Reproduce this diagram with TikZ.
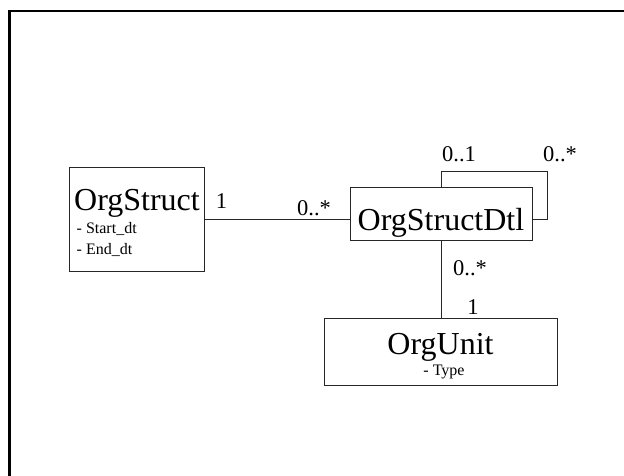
\documentclass[tikz,border=0pt]{standalone}
\usepackage{fontspec}
\setmainfont{Liberation Serif}
\begin{document}
\begin{tikzpicture}[x=1pt,y=-1pt,
  cls/.style={draw=black!85,line width=1pt,fill=white,inner sep=0pt,anchor=north west},
  conn/.style={draw=black!85,line width=1pt},
  nm/.style={font=\fontsize{32}{36}\selectfont,anchor=base,inner sep=0pt},
  attr/.style={font=\fontsize{16}{18}\selectfont,anchor=base west,inner sep=0pt},
  mult/.style={font=\fontsize{22.5}{24}\selectfont,anchor=base,inner sep=0pt}]
\useasboundingbox (0,0) rectangle (624,476);
% frame
\draw[line width=2.3pt] (9.5,480) -- (9.5,10.7) -- (630,10.7);
% classes
\node[cls,minimum width=135pt,minimum height=104pt] (os) at (69,167) {};
\node[cls,minimum width=182pt,minimum height=53pt] (dtl) at (350,187) {};
\node[cls,minimum width=233pt,minimum height=67pt] (ou) at (324,318) {};
% texts
\node[nm] (osn) at (137,210) {OrgStruct};
\node[attr] (osa1) at (76.5,233) {- Start\_dt};
\node[attr] (osa2) at (76.5,254) {- End\_dt};
\node[nm] (dtln) at (441,230) {OrgStructDtl};
\node[nm] (oun) at (440.5,354) {OrgUnit};
\node[attr,anchor=base] (oua) at (444,375) {- Type};
% connectors
\draw[conn] (os.east) -- (os.east -| dtl.west);
\coordinate (loop) at (547,172);
\draw[conn] (dtl.north) |- (loop) |- ([yshift=-5.5pt]dtl.east);
\draw[conn] (dtl.south) -- (dtl.south |- ou.north);
% multiplicities
\node[mult] (m1) at (221.5,208) {1};
\node[mult] (m2) at (314,215) {0..*};
\node[mult] (m3) at (459,162) {0..1};
\node[mult] (m4) at (560,162) {0..*};
\node[mult] (m5) at (470,275) {0..*};
\node[mult] (m6) at (473,314) {1};
\end{tikzpicture}
\end{document}
